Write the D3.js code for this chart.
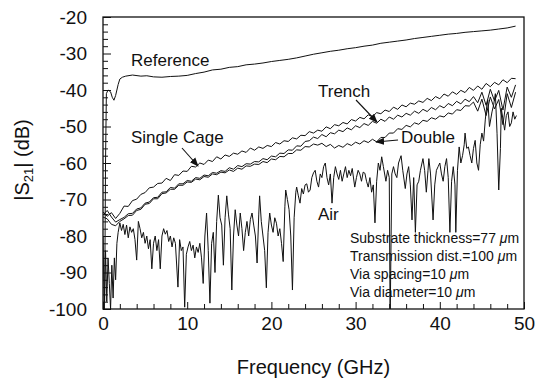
<!DOCTYPE html>
<html>
<head>
<meta charset="utf-8">
<script src="https://cdn.jsdelivr.net/npm/d3@7"></script>
<style>
  body { margin: 0; background: #fff; }
  text { font-family: "Liberation Sans", Arial, sans-serif; fill: #111; }
</style>
</head>
<body>
<script>
// frequency grid (GHz) shared by the three cage curves
var grid = [0,0.5,1,1.5,2,2.5,3,3.5,4,4.5,5,5.5,6,6.5,7,7.5,8,8.5,9,9.5,
  10,10.5,11,11.5,12,12.5,13,13.5,14,14.5,15,15.5,16,16.5,17,17.5,18,18.5,19,19.5,
  20,20.5,21,21.5,22,22.5,23,23.5,24,24.5,25,25.5,26,26.5,27,27.5,28,28.5,29,29.5,
  30,30.5,31,31.5,32,32.5,33,33.5,34,34.5,35,35.5,36,36.5,37,37.5,38,38.5,39,39.5,
  40,40.5,41,41.5,42,42.5,43,43.5,44,44.5,45,45.5,46,46.5,47,47.5,48,48.5,49];

var singleCage = [-73.4,-74.6,-73.6,-75.2,-73.8,-71.8,-71.9,-70.3,-69.9,-68.6,
  -68.1,-66.8,-66.6,-65.6,-65.5,-64.2,-64.8,-63.2,-63.4,-62.2,
  -62.3,-60.9,-61.1,-60.0,-60.4,-59.2,-59.6,-58.3,-58.9,-57.8,
  -58.2,-57.3,-57.6,-56.7,-57.1,-55.9,-56.5,-55.6,-56.0,-55.2,
  -55.5,-54.4,-54.8,-53.9,-54.1,-53.1,-53.4,-52.4,-52.5,-51.4,
  -51.8,-51.0,-51.3,-50.1,-50.6,-49.5,-49.8,-48.9,-49.3,-48.1,
  -48.5,-47.5,-47.9,-46.8,-47.3,-46.2,-46.5,-45.5,-45.9,-44.7,
  -45.3,-44.1,-44.6,-43.6,-43.9,-43.0,-43.4,-42.3,-42.9,-41.8,
  -42.4,-41.1,-41.7,-40.5,-41.2,-40.1,-40.7,-39.3,-40.1,-38.9,
  -39.8,-38.2,-39.1,-37.9,-38.6,-37.2,-38.0,-36.8,-36.9];

var trench = [-74.2,-73.0,-74.8,-76.2,-75.5,-74.9,-73.9,-73.8,-72.6,-72.3,
  -71.0,-70.7,-69.5,-69.4,-68.0,-67.9,-66.7,-66.9,-65.7,-65.7,
  -64.8,-65.0,-64.0,-64.2,-63.3,-63.5,-62.6,-62.8,-62.1,-62.3,
  -61.3,-61.7,-60.7,-61.0,-60.2,-60.3,-59.6,-59.7,-58.8,-59.1,
  -58.1,-58.3,-57.3,-57.4,-56.4,-56.5,-55.3,-55.4,-54.1,-53.9,
  -52.9,-53.3,-52.2,-52.8,-51.7,-52.0,-51.0,-51.4,-50.4,-50.9,
  -49.8,-50.3,-49.2,-49.7,-48.6,-49.1,-48.0,-48.6,-47.4,-48.0,
  -46.9,-47.4,-46.4,-46.9,-45.8,-46.4,-45.3,-45.9,-44.8,-45.4,
  -44.3,-44.9,-43.7,-44.3,-43.1,-43.8,-42.5,-43.2,-41.8,-43.5,
  -40.6,-44.2,-39.8,-43.0,-40.1,-45.5,-39.2,-42.0,-38.6];

var doubleCage = [-74.8,-75.3,-76.8,-77.2,-76.0,-75.3,-74.4,-74.3,-73.0,-72.7,
  -71.3,-71.1,-69.8,-69.8,-68.4,-68.2,-67.2,-67.2,-66.1,-66.1,
  -65.2,-65.3,-64.4,-64.6,-63.7,-63.9,-63.0,-63.2,-62.5,-62.7,
  -61.9,-62.3,-61.4,-61.7,-60.8,-60.9,-60.3,-60.4,-59.6,-59.9,
  -58.9,-59.1,-58.2,-58.3,-57.4,-57.4,-56.4,-56.5,-55.5,-55.6,
  -54.8,-55.1,-54.6,-55.5,-54.9,-55.9,-55.2,-55.7,-54.7,-55.2,
  -54.3,-54.8,-53.9,-54.4,-53.5,-54.2,-53.0,-53.0,-51.8,-51.8,
  -50.6,-50.8,-49.7,-50.1,-49.0,-49.4,-48.3,-48.6,-47.6,-48.0,
  -47.1,-47.4,-46.3,-46.6,-45.4,-45.6,-44.3,-44.4,-43.3,-45.8,
  -42.5,-47.0,-41.9,-45.2,-42.6,-49.5,-41.0,-44.8,-40.6];

var refFreq = [0.2,0.3,0.4,0.6,0.9,1.1,1.3,1.5,1.8,2.0,2.3,2.7,3.5,4.5,5.2,6,7,8,9,10,
  11,12,13,14,15,16,17,18,19,20,21,22,23,24,25,26,27,28,29,30,
  31,32,33,34,35,36,37,38,39,40,41,42,43,44,45,46,47,48,49];
var reference = [-98,-60,-41,-40,-40.5,-42,-42.8,-41.5,-38.5,-37,-36.5,-36.2,-35.9,-36.2,-36.1,-36.4,-36.5,-36.3,-36.2,-36.0,
  -35.5,-35.1,-34.5,-34.3,-33.8,-33.6,-33.1,-32.9,-32.6,-32.2,-31.9,-31.6,-31.2,-30.7,-30.2,-29.8,-29.4,-29.1,-28.7,-28.4,
  -28.0,-27.7,-27.2,-26.9,-26.6,-26.3,-25.9,-25.6,-25.3,-25.0,-24.7,-24.5,-24.2,-24.0,-23.8,-23.6,-23.3,-23.0,-22.5];

var airFreq = [0,0.15,0.3,0.45,0.6,0.75,0.9,1.05,1.2,1.35,1.5,1.65,1.8,2.0,2.2,2.4,2.6,2.8,3.0,3.2,
  3.4,3.6,3.8,4.0,4.2,4.4,4.6,4.8,5.0,5.2,5.4,5.6,5.8,6.0,6.2,6.4,6.6,6.8,7.0,7.2,
  7.4,7.6,7.8,8.0,8.2,8.4,8.6,8.9,9.1,9.3,9.5,9.7,9.9,10.1,10.3,10.5,10.7,10.9,11.1,11.3,
  11.5,11.7,11.9,12.1,12.3,12.5,12.7,12.9,13.1,13.3,13.5,13.7,13.9,14.1,14.3,14.5,14.7,14.9,15.1,15.3,
  15.5,15.7,15.9,16.1,16.3,16.5,16.7,16.9,17.1,17.3,17.5,17.7,17.9,18.1,18.3,18.5,18.6,18.8,19.0,19.2,
  19.4,19.6,19.8,20.0,20.2,20.4,20.6,20.8,21.0,21.2,21.4,21.6,21.7,21.9,22.1,22.3,22.5,22.7,22.9,23.0,
  23.2,23.4,23.6,23.8,24.0,24.2,24.4,24.6,24.8,25.0,25.2,25.4,25.6,25.8,26.0,26.2,26.4,26.6,26.8,27.0,
  27.2,27.4,27.6,27.8,28.0,28.2,28.4,28.6,28.8,29.0,29.2,29.4,29.6,29.9,30.1,30.3,30.5,30.7,30.9,31.1,
  31.3,31.5,31.7,31.9,32.1,32.3,32.5,32.7,32.9,33.1,33.3,33.6,33.8,34.0,34.1,34.3,34.5,34.7,34.9,35.1,
  35.4,35.6,35.9,36.1,36.3,36.5,36.7,36.9,37.1,37.3,37.5,37.7,38.0,38.2,38.4,38.6,38.7,38.9,39.2,39.4,
  39.6,39.8,40.0,40.2,40.4,40.6,40.8,41.0,41.2,41.4,41.6,41.8,41.9,42.1,42.3,42.5,42.7,42.9,43.0,43.2,
  43.4,43.6,43.8,44.0,44.2,44.4,44.6,44.8,45.0,45.2,45.4,45.6,45.7,45.9,46.2,46.4,46.6,46.8,47.0,47.2,
  47.3,47.5,47.7,47.9,48.1,48.3,48.5,48.7,48.9,49.1];
var air = [-80,-100,-84,-98,-86,-93,-100,-88,-97,-86,-92,-82,-79,-76.4,-78.5,-76.8,-79.6,-77,-80.5,-77.5,
  -79,-78,-81,-86.6,-76,-78,-80.5,-79,-82,-80,-83.5,-81,-89,-82,-80,-84,-81,-89,-80,-78,
  -79.5,-78.5,-81.5,-80,-83,-80.5,-82,-94,-81,-84,-83,-99.5,-85,-83,-81.5,-84,-82.5,-86,-83,-84.5,
  -82,-86,-93,-80,-73.7,-84,-98.4,-82,-79,-90,-76,-68.8,-75,-77,-88,-75,-69,-74,-78,-94.8,
  -80,-72.8,-77,-80,-73.7,-78,-84,-79,-76,-80,-75.5,-73.7,-77,-80,-87.4,-74,-69,-76,-80,-84,
  -94.2,-79,-73.7,-77,-79,-75,-76.5,-80,-78,-82,-87,-72,-67.4,-70,-72.8,-80,-94.8,-75,-68,-66.6,
  -69,-71,-67,-68.5,-66,-65.7,-68,-67.4,-64,-62.7,-62,-65,-66.6,-63,-64,-61,-60,-64,-66,-63,
  -71,-64,-61,-63,-64.5,-62,-65,-63,-61,-64,-62,-63.5,-61.5,-66.6,-64,-62,-63,-65,-62.5,-62.8,
  -65,-66.6,-64,-68,-66,-76.4,-65,-60,-62,-58.3,-61,-65,-62,-64,-104,-63,-61,-63,-64,-60,
  -58,-62,-67,-63,-61,-66,-75.6,-64,-79,-66,-65,-62,-58.8,-62,-68,-62,-58.8,-63,-75.6,-66,
  -62,-61,-60,-63,-65,-61,-58.8,-64,-79,-65,-61,-66,-79,-62,-55.6,-60,-58,-55,-51.8,-56,
  -55.6,-58,-60,-56,-53.8,-60,-62,-55,-51.8,-54,-48.2,-44,-42.7,-50,-46,-44,-41,-52,-67.4,-56,
  -45,-48,-51,-47,-46,-50,-49,-46,-48,-47];

var yTicks = [-100,-90,-80,-70,-60,-50,-40,-30,-20];
var xTicks = [0,10,20,30,40,50];
var notes = ["Substrate thickness=77 ", "Transmission dist.=100 ", "Via spacing=10 ", "Via diameter=10 "];

var width = 537, height = 385;
var plotL = 103, plotR = 524, plotT = 17, plotB = 309;

var svg = d3.select('body').append('svg')
  .attr('width', width)
  .attr('height', height);

var x = d3.scaleLinear().domain([0, 50]).range([plotL, plotR]);
var y = d3.scaleLinear().domain([-100, -20]).range([plotB, plotT]);

var defs = svg.append('defs');
defs.append('clipPath').attr('id', 'plot')
  .append('rect').attr('x', plotL).attr('y', plotT)
  .attr('width', plotR - plotL).attr('height', plotB - plotT);

// axes: inward ticks every 2 units, labels only on decades
var xAxis = d3.axisBottom(x)
  .tickValues(d3.range(0, 51, 2))
  .tickSize(-5)
  .tickPadding(8)
  .tickFormat(function(d) { return xTicks.indexOf(d) >= 0 ? d : ''; });
var yAxis = d3.axisLeft(y)
  .tickValues(d3.range(-100, -19, 2))
  .tickSize(-5)
  .tickPadding(16)
  .tickFormat(function(d) { return yTicks.indexOf(d) >= 0 ? d : ''; });

var gx = svg.append('g').attr('transform', 'translate(0,' + plotB + ')').call(xAxis);
var gy = svg.append('g').attr('transform', 'translate(' + plotL + ',0)').call(yAxis);
[gx, gy].forEach(function(g) {
  g.select('.domain').remove();
  g.selectAll('line').attr('stroke', '#111').attr('stroke-width', 1);
  g.selectAll('text').attr('font-size', 19).attr('fill', '#111')
    .style('font-family', '"Liberation Sans", Arial, sans-serif');
});
gy.selectAll('.tick line').attr('x2', function(d) { return d % 10 === 0 ? 8 : 5; });
gx.selectAll('.tick line').attr('y2', function(d) { return d % 10 === 0 ? -7 : -5; });

svg.append('rect')
  .attr('x', plotL).attr('y', plotT)
  .attr('width', plotR - plotL).attr('height', plotB - plotT)
  .attr('fill', 'none').attr('stroke', '#111').attr('stroke-width', 1.3);

var line = d3.line()
  .x(function(d) { return x(d[0]); })
  .y(function(d) { return y(d[1]); });

var curves = svg.append('g').attr('clip-path', 'url(#plot)');
function draw(fs, vs) {
  curves.append('path')
    .attr('d', line(d3.zip(fs, vs)))
    .attr('fill', 'none')
    .attr('stroke', '#111')
    .attr('stroke-width', 1)
    .attr('stroke-linejoin', 'round');
}
draw(airFreq, air);
draw(grid, doubleCage);
draw(grid, trench);
draw(grid, singleCage);
draw(refFreq, reference);

// arrows
defs.append('marker').attr('id', 'head')
  .attr('viewBox', '0 0 10 10').attr('refX', 9).attr('refY', 5)
  .attr('markerWidth', 9).attr('markerHeight', 9).attr('markerUnits', 'userSpaceOnUse')
  .attr('orient', 'auto')
  .append('path').attr('d', 'M0,1 L10,5 L0,9 Z').attr('fill', '#111');

function arrow(x1, y1, x2, y2) {
  svg.append('line').attr('x1', x1).attr('y1', y1).attr('x2', x2).attr('y2', y2)
    .attr('stroke', '#111').attr('stroke-width', 1.1).attr('marker-end', 'url(#head)');
}
arrow(356, 100, 377, 122);
arrow(182, 148, 198, 166);
arrow(398, 140, 376, 142);

function label(t, lx, ly, size) {
  svg.append('text').attr('x', lx).attr('y', ly).attr('font-size', size).text(t);
}
label('Reference', 131, 66, 17);
label('Trench', 318, 97, 17);
label('Single Cage', 131, 143, 17);
label('Double', 401, 143, 17);
label('Air', 318, 220, 17);

notes.forEach(function(t, i) {
  var tx = svg.append('text').attr('x', 350).attr('y', 243 + i * 18).attr('font-size', 14);
  tx.append('tspan').text(t);
  tx.append('tspan').attr('font-style', 'italic').text('\u03bc');
  tx.append('tspan').text('m');
});

// axis titles
svg.append('text')
  .attr('x', (plotL + plotR) / 2).attr('y', 374)
  .attr('text-anchor', 'middle').attr('font-size', 20)
  .text('Frequency (GHz)');

var yt = svg.append('text')
  .attr('transform', 'translate(29,160) rotate(-90)')
  .attr('text-anchor', 'middle').attr('font-size', 20);
yt.append('tspan').text('|S');
yt.append('tspan').attr('font-size', 13).attr('dy', 4).text('21');
yt.append('tspan').attr('dy', -4).text('| (dB)');
</script>
</body>
</html>
